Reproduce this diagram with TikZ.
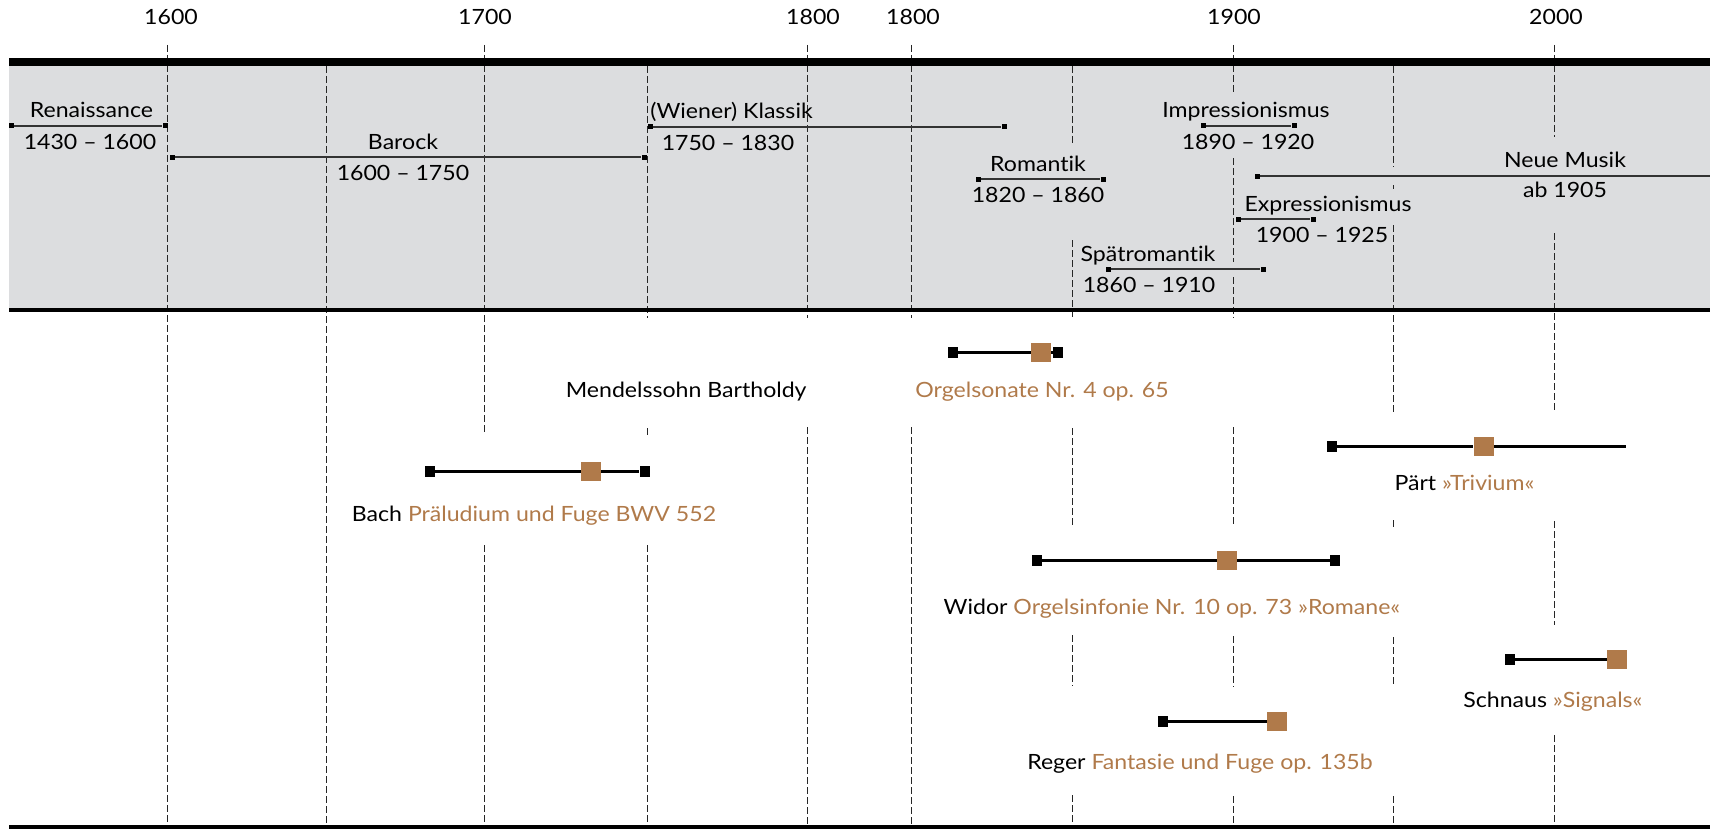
\documentclass[tikz,border=0pt]{standalone}
\usepackage{fontspec}
\setmainfont{Lato}[FakeStretch=1.1, Ligatures={TeX,NoCommon}]

\definecolor{bandgray}{RGB}{220,221,223}
\definecolor{opusbrown}{RGB}{176,122,74}
\definecolor{spangray}{RGB}{51,51,51}

\tikzset{
  lbl/.style={font=\fontsize{10.5}{12}\selectfont, inner sep=0pt},
  yearline/.style={draw=black!85, line width=0.5pt, dash pattern=on 3.5pt off 1.5pt},
  span/.style={draw=spangray, line width=0.75pt},
  spanend/.style={fill=black, minimum size=2.5pt, inner sep=0pt},
  opus/.style={draw=black, line width=1.5pt},
  opusend/.style={fill=black, minimum width=5pt, minimum height=5.5pt, inner sep=0pt},
  opusdate/.style={fill=opusbrown, minimum width=10pt, minimum height=9.5pt, inner sep=0pt},
}

\begin{document}
\begin{tikzpicture}[x=0.5pt,y=0.5pt,yscale=-1,xscale=1]
\useasboundingbox (0,0) rectangle (1713,829);

%Shape: Rectangle [epochs band]
\fill [bandgray] (9,66) rectangle (1710,308);

%Straight Lines [1600]
\draw [yearline] (167,45) -- (167,826);
%Straight Lines [1650]
\draw [yearline] (326,66) -- (326,826);
%Straight Lines [1700]
\draw [yearline] (484,45) -- (484,434);
\draw [yearline] (484,545) -- (484,826);
%Straight Lines [1750]
\draw [yearline] (647,66) -- (647,318);
\draw [yearline] (647,428) -- (647,437);
\draw [yearline] (647,545) -- (647,826);
%Straight Lines [1800, left]
\draw [yearline] (807,45) -- (807,318);
\draw [yearline] (807,427) -- (807,826);
%Straight Lines [1800, right]
\draw [yearline] (911,45) -- (911,318);
\draw [yearline] (911,427) -- (911,826);
%Straight Lines [1850]
\draw [yearline] (1072,66) -- (1072,144);
\draw [yearline] (1072,240) -- (1072,318);
\draw [yearline] (1072,428) -- (1072,526);
\draw [yearline] (1072,635) -- (1072,686);
\draw [yearline] (1072,795) -- (1072,826);
%Straight Lines [1900]
\draw [yearline] (1233,45) -- (1233,93);
\draw [yearline] (1233,158) -- (1233,262);
\draw [yearline] (1233,277) -- (1233,318);
\draw [yearline] (1233,427) -- (1233,527);
\draw [yearline] (1233,636) -- (1233,687);
\draw [yearline] (1233,796) -- (1233,826);
%Straight Lines [1950]
\draw [yearline] (1393,66) -- (1393,167);
\draw [yearline] (1393,185) -- (1393,189);
\draw [yearline] (1393,225) -- (1393,412);
\draw [yearline] (1393,520) -- (1393,527);
\draw [yearline] (1393,637) -- (1393,687);
\draw [yearline] (1393,796) -- (1393,826);
%Straight Lines [2000]
\draw [yearline] (1554,45) -- (1554,137);
\draw [yearline] (1554,233) -- (1554,412);
\draw [yearline] (1554,521) -- (1554,625);
\draw [yearline] (1554,735) -- (1554,826);

%Shape: Rectangle [rules]
\fill (9,58) rectangle (1710,66);
\fill (9,308) rectangle (1710,312);
\fill (9,825) rectangle (1710,829);

% Text Node [years]
\node [lbl, anchor=base] (y1600) at (171,25) {1600};
\node [lbl, anchor=base] (y1700) at (485,25) {1700};
\node [lbl, anchor=base] (y1800a) at (813,25) {1800};
\node [lbl, anchor=base] (y1800b) at (913,25) {1800};
\node [lbl, anchor=base] (y1900) at (1234,25) {1900};
\node [lbl, anchor=base] (y2000) at (1556,25) {2000};

%Renaissance
\node [spanend] (renA) at (11,126) {};
\node [spanend] (renB) at (165,126) {};
\draw [span] (renA) -- (renB);
\node [lbl, anchor=base] (renname) at (91.5,118) {Renaissance};
\node [lbl, anchor=base] (rendate) at (90,149) {1430 -- 1600};

%Barock
\node [spanend] (barA) at (172,157) {};
\node [spanend] (barB) at (644,157) {};
\draw [span] (barA) -- (barB);
\node [lbl, anchor=base] (barname) at (403,149) {Barock};
\node [lbl, anchor=base] (bardate) at (403,180) {1600 -- 1750};

%Klassik
\node [spanend] (klaA) at (650,127) {};
\node [spanend] (klaB) at (1004,127) {};
\draw [span] (klaA) -- (klaB);
\node [lbl, anchor=base west] (klaname) at (650,119) {(Wiener) Klassik};
\node [lbl, anchor=base] (kladate) at (728,150) {1750 -- 1830};

%Romantik
\node [spanend] (romA) at (978,179) {};
\node [spanend] (romB) at (1103,179) {};
\draw [span] (romA) -- (romB);
\node [lbl, anchor=base] (romname) at (1038,171) {Romantik};
\node [lbl, anchor=base] (romdate) at (1038,202) {1820 -- 1860};

%Impressionismus
\node [spanend] (impA) at (1203,126) {};
\node [spanend] (impB) at (1294,126) {};
\draw [span] (impA) -- (impB);
\node [lbl, anchor=base] (impname) at (1246,118) {Impressionismus};
\node [lbl, anchor=base] (impdate) at (1248,149) {1890 -- 1920};

%Neue Musik
\node [spanend] (neuA) at (1257,176) {};
\coordinate (neuE) at (1710,176);
\draw [span] (neuA) -- (neuE);
\node [lbl, anchor=base] (neuname) at (1565,168) {Neue Musik};
\node [lbl, anchor=base] (neudate) at (1565,197) {ab 1905};

%Expressionismus
\node [spanend] (expA) at (1238,219) {};
\node [spanend] (expB) at (1313,219) {};
\draw [span] (expA) -- (expB);
\node [lbl, anchor=base] (expname) at (1328,211) {Expressionismus};
\node [lbl, anchor=base] (expdate) at (1322,242) {1900 -- 1925};

%Spaetromantik
\node [spanend] (sprA) at (1108,269) {};
\node [spanend] (sprB) at (1263,269) {};
\draw [span] (sprA) -- (sprB);
\node [lbl, anchor=base] (sprname) at (1148,261) {Spätromantik};
\node [lbl, anchor=base] (sprdate) at (1149,292) {1860 -- 1910};

%Mendelssohn
\node [opusend] (menA) at (953,352) {};
\node [opusdate] (menM) at (1041,352) {};
\node [opusend] (menB) at (1058,352) {};
\draw [opus] (menA) -- (menM) -- (menB);
\node [lbl, anchor=base east] (menname) at (807,397) {Mendelssohn Bartholdy};
\node [lbl, anchor=base west, text=opusbrown] (menwork) at (915,397) {Orgelsonate Nr. 4 op. 65};

%Bach
\node [opusend] (bacA) at (429.5,471) {};
\node [opusdate] (bacM) at (591,471) {};
\node [opusend] (bacB) at (644.5,471) {};
\draw [opus] (bacA) -- (bacM) -- (bacB);
\node [lbl, anchor=base] (baclbl) at (534,521) {Bach \textcolor{opusbrown}{Präludium und Fuge BWV 552}};

%Paert
\node [opusend] (parA) at (1332,446) {};
\node [opusdate] (parM) at (1483.5,446) {};
\coordinate (parE) at (1626,446);
\draw [opus] (parA) -- (parM) -- (parE);
\node [lbl, anchor=base] (parlbl) at (1464.5,490) {Pärt \textcolor{opusbrown}{»Trivium«}};

%Widor
\node [opusend] (widA) at (1036.6,560) {};
\node [opusdate] (widM) at (1227,560) {};
\node [opusend] (widB) at (1335,560) {};
\draw [opus] (widA) -- (widM) -- (widB);
\node [lbl, anchor=base] (widlbl) at (1172,614) {Widor \textcolor{opusbrown}{Orgelsinfonie Nr. 10 op. 73 »Romane«}};

%Schnaus
\node [opusend] (schA) at (1510,659) {};
\node [opusdate] (schM) at (1617,659) {};
\draw [opus] (schA) -- (schM);
\node [lbl, anchor=base] (schlbl) at (1553,707) {Schnaus \textcolor{opusbrown}{»Signals«}};

%Reger
\node [opusend] (regA) at (1163,721) {};
\node [opusdate] (regM) at (1277,721) {};
\draw [opus] (regA) -- (regM);
\node [lbl, anchor=base] (reglbl) at (1200,769) {Reger \textcolor{opusbrown}{Fantasie und Fuge op. 135b}};

\end{tikzpicture}
\end{document}
